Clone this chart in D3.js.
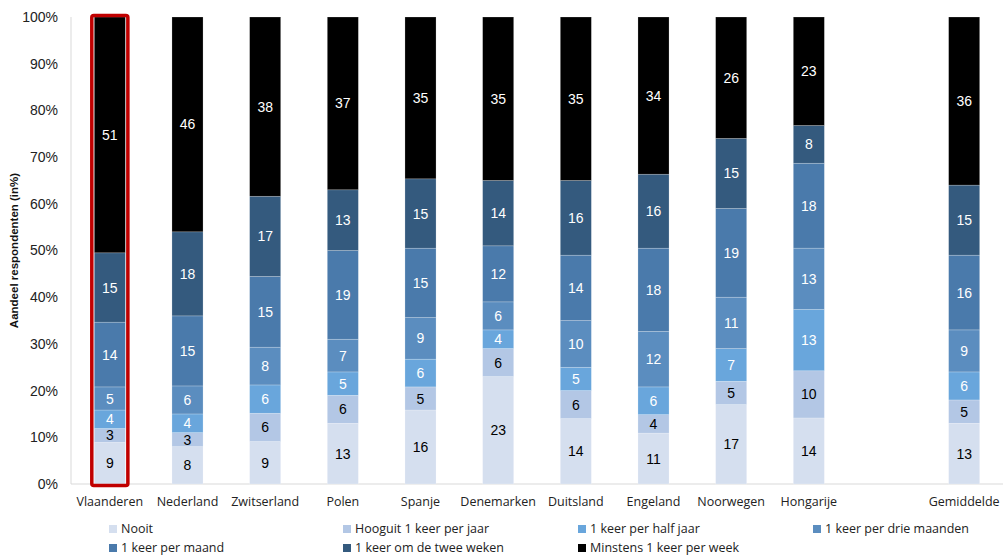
<!DOCTYPE html>
<html>
<head>
<meta charset="utf-8">
<script src="https://cdn.jsdelivr.net/npm/d3@7"></script>
<style>
  body { margin: 0; background: #fff; }
  svg { display: block; }
</style>
</head>
<body>
<script>
// =================== Data ======================
var countries = ["Vlaanderen", "Nederland", "Zwitserland", "Polen", "Spanje", "Denemarken",
                 "Duitsland", "Engeland", "Noorwegen", "Hongarije", "", "Gemiddelde"];

var series = ["Nooit", "Hooguit 1 keer per jaar", "1 keer per half jaar",
              "1 keer per drie maanden", "1 keer per maand",
              "1 keer om de twee weken", "Minstens 1 keer per week"];

// one array per series, same order as countries (empty slot = null)
var nooit       = [ 9,  8,  9, 13, 16, 23, 14, 11, 17, 14, null, 13];
var hooguitJaar = [ 3,  3,  6,  6,  5,  6,  6,  4,  5, 10, null,  5];
var halfJaar    = [ 4,  4,  6,  5,  6,  4,  5,  6,  7, 13, null,  6];
var drieMaanden = [ 5,  6,  8,  7,  9,  6, 10, 12, 11, 13, null,  9];
var perMaand    = [14, 15, 15, 19, 15, 12, 14, 18, 19, 18, null, 16];
var tweeWeken   = [15, 18, 17, 13, 15, 14, 16, 16, 15,  8, null, 15];
var perWeek     = [51, 46, 38, 37, 35, 35, 35, 34, 26, 23, null, 36];

var yTicks = [0, 0.1, 0.2, 0.3, 0.4, 0.5, 0.6, 0.7, 0.8, 0.9, 1];

var colors = ["#d5dfef", "#b3c7e5", "#69a6dc", "#5b8dbf", "#4a7aab", "#345a7e", "#000000"];
var labelColors = ["#000", "#000", "#fff", "#fff", "#fff", "#fff", "#fff"];

var values = [nooit, hooguitJaar, halfJaar, drieMaanden, perMaand, tweeWeken, perWeek];

// build a table for d3.stack
var table = countries.map(function(c, i) {
  var row = { country: c, idx: i };
  series.forEach(function(s, j) { row[s] = values[j][i] == null ? 0 : values[j][i]; });
  return row;
});

// =================== Chart ======================
var W = 1006, H = 557;
var margin = {top: 17, right: 3, bottom: 73, left: 71};
var width = W - margin.left - margin.right,
    height = H - margin.top - margin.bottom;

var svg = d3.select("body").append("svg")
    .attr("width", W)
    .attr("height", H);

var g = svg.append("g")
    .attr("transform", "translate(" + margin.left + "," + margin.top + ")");

var x = d3.scaleBand()
    .domain(d3.range(countries.length))
    .range([0, width])
    .paddingInner(0.6)
    .paddingOuter(0.3);

var y = d3.scaleLinear()
    .domain([0, 1])
    .range([height, 0]);

var stack = d3.stack()
    .keys(series)
    .offset(d3.stackOffsetExpand);

var stacked = stack(table.filter(function(d) { return d.country !== ""; }));

// y axis ticks (no line, text only)
var yAxis = g.append("g")
    .call(d3.axisLeft(y).tickValues(yTicks).tickFormat(d3.format(".0%")).tickSize(0).tickPadding(13));
yAxis.select(".domain").remove();
yAxis.selectAll("text")
    .attr("font-family", "Liberation Sans, Arial, sans-serif")
    .attr("font-size", 14)
    .attr("fill", "#222");

// axis lines
g.append("line")
    .attr("x1", 0).attr("x2", 0)
    .attr("y1", 0).attr("y2", height)
    .attr("stroke", "#d9d9d9").attr("stroke-width", 1);
g.append("line")
    .attr("x1", 0).attr("x2", width)
    .attr("y1", height).attr("y2", height)
    .attr("stroke", "#d9d9d9").attr("stroke-width", 1);

// bars
var layers = g.selectAll(".layer")
    .data(stacked)
  .enter().append("g")
    .attr("class", "layer")
    .attr("fill", function(d, i) { return colors[i]; });

layers.selectAll("rect")
    .data(function(d) { return d; })
  .enter().append("rect")
    .attr("x", function(d) { return x(d.data.idx); })
    .attr("width", x.bandwidth())
    .attr("y", function(d) { return y(d[1]); })
    .attr("height", function(d) { return y(d[0]) - y(d[1]); })
    .attr("stroke", "rgba(255,255,255,0.35)")
    .attr("stroke-width", 0.6);

// value labels
stacked.forEach(function(layer, i) {
  g.selectAll(".lbl" + i)
      .data(layer)
    .enter().append("text")
      .attr("x", function(d) { return x(d.data.idx) + x.bandwidth() / 2; })
      .attr("y", function(d) { return (y(d[0]) + y(d[1])) / 2; })
      .attr("dy", "0.36em")
      .attr("text-anchor", "middle")
      .attr("font-family", "Liberation Sans, Arial, sans-serif")
      .attr("font-size", 14)
      .attr("fill", labelColors[i])
      .text(function(d) { return d.data[layer.key]; });
});

// highlight Vlaanderen
g.append("rect")
    .attr("x", x(0) - 2.5)
    .attr("y", -1.5)
    .attr("width", x.bandwidth() + 5)
    .attr("height", height + 3)
    .attr("rx", 2)
    .attr("fill", "none")
    .attr("stroke", "#c00000")
    .attr("stroke-width", 3.5);

// x labels
g.selectAll(".xlabel")
    .data(countries)
  .enter().append("text")
    .attr("x", function(d, i) { return x(i) + x.bandwidth() / 2; })
    .attr("y", height + 22)
    .attr("text-anchor", "middle")
    .attr("font-family", "Open Sans, Lato, sans-serif")
    .attr("font-size", 12.5)
    .attr("fill", "#222")
    .text(function(d) { return d; });

// y axis title
svg.append("text")
    .attr("transform", "translate(18," + (margin.top + height / 2) + ") rotate(-90)")
    .attr("text-anchor", "middle")
    .attr("font-family", "Liberation Sans, Arial, sans-serif")
    .attr("font-size", 11.5)
    .attr("font-weight", "bold")
    .attr("fill", "#111")
    .text("Aandeel respondenten (in%)");

// legend
var legendX = [109, 343, 578, 813],
    legendY = [529, 548];

var legend = svg.selectAll(".legend")
    .data(series)
  .enter().append("g")
    .attr("class", "legend")
    .attr("transform", function(d, i) {
      return "translate(" + legendX[i % 4] + "," + legendY[Math.floor(i / 4)] + ")";
    });

legend.append("rect")
    .attr("x", 0).attr("y", -4)
    .attr("width", 8).attr("height", 8)
    .attr("fill", function(d, i) { return colors[i]; });

legend.append("text")
    .attr("x", 12)
    .attr("dy", "0.35em")
    .attr("font-family", "Open Sans, Lato, sans-serif")
    .attr("font-size", 12.5)
    .attr("fill", "#222")
    .text(function(d) { return d; });
</script>
</body>
</html>
